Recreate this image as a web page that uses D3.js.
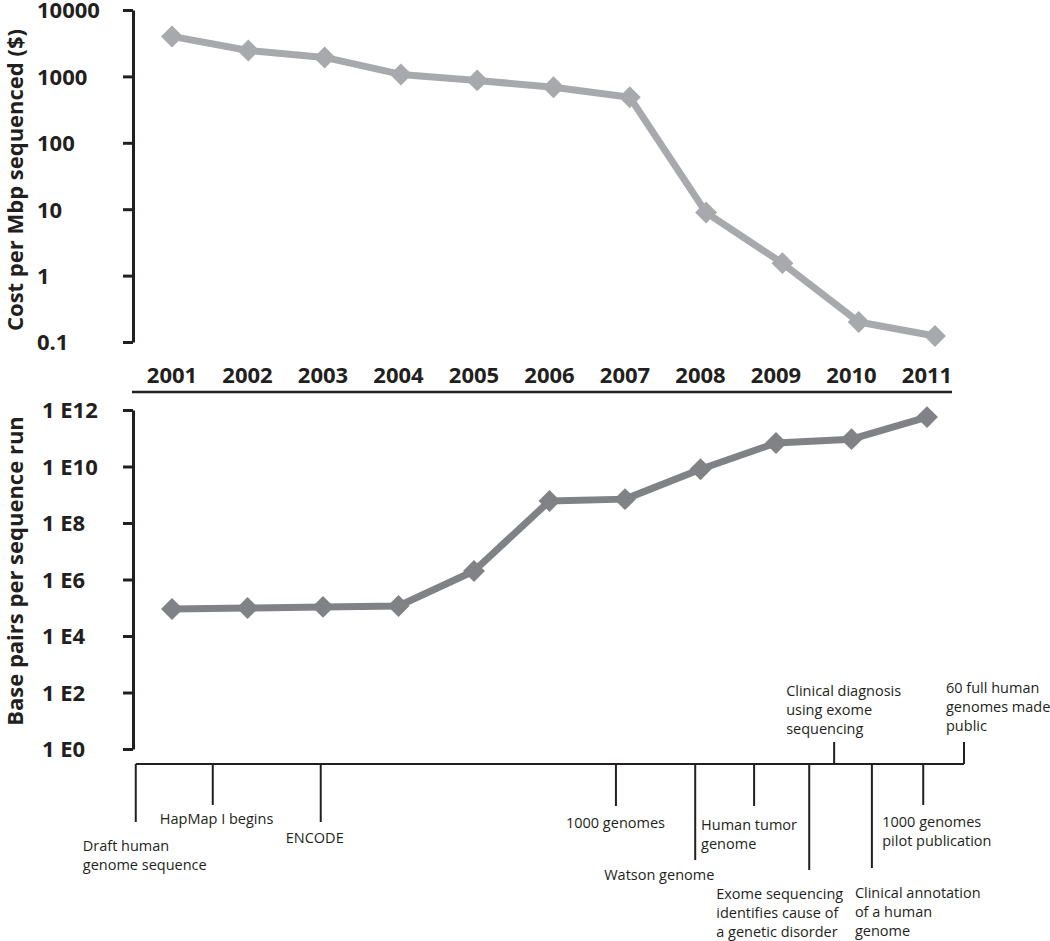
<!DOCTYPE html>
<html>
<head>
<meta charset="utf-8">
<script src="https://cdn.jsdelivr.net/npm/d3@7"></script>
<style>
  body { margin: 0; background: #fff; }
  text { font-family: "Open Sans", sans-serif; fill: #231f20; }
</style>
</head>
<body>
<div class="chart"></div>
<script>
// data
var years = [2001, 2002, 2003, 2004, 2005, 2006, 2007, 2008, 2009, 2010, 2011];
var costPerMbp = [4000, 2450, 1930, 1070, 870, 685, 485, 8.9, 1.54, 0.2, 0.123];
var basePairsPerRun = [9e4, 9.8e4, 1.07e5, 1.15e5, 2e6, 6e8, 7e8, 8e9, 6.8e10, 9.3e10, 5.6e11];

var costTicks = [0.1, 1, 10, 100, 1000, 10000];
var costTickLabels = ["0.1", "1", "10", "100", "1000", "10000"];
var bpTicks = [1e0, 1e2, 1e4, 1e6, 1e8, 1e10, 1e12];
var bpTickLabels = ["1 E0", "1 E2", "1 E4", "1 E6", "1 E8", "1 E10", "1 E12"];

// timeline events (fractional year) and their text
var eventDates = [2000.52, 2001.54, 2002.97, 2006.88, 2007.93, 2008.71, 2009.44, 2009.77, 2010.27, 2010.95, 2011.49];
var eventLabels = [
  ["Draft human", "genome sequence"],
  ["HapMap I begins"],
  ["ENCODE"],
  ["1000 genomes"],
  ["Watson genome"],
  ["Human tumor", "genome"],
  ["Exome sequencing", "identifies cause of", "a genetic disorder"],
  ["Clinical diagnosis", "using exome", "sequencing"],
  ["Clinical annotation", "of a human", "genome"],
  ["1000 genomes", "pilot publication"],
  ["60 full human", "genomes made", "public"]
];

// where each event's stem and label sit (layout only)
// len: stem length (negative = up), dx: label offset, dy: first baseline below stem end
var eventLayout = [
  { len: 58, dx: -53, dy: 29 },
  { len: 41, dx: -53, dy: 19 },
  { len: 58, dx: -35, dy: 21 },
  { len: 42, dx: -50, dy: 22 },
  { len: 96, dx: -91, dy: 20 },
  { len: 42, dx: -53, dy: 24 },
  { len: 106, dx: -93, dy: 29 },
  { len: -22, dx: -48, dy: -46 },
  { len: 104, dx: -17, dy: 30 },
  { len: 41, dx: -41, dy: 22 },
  { len: -22, dx: -18, dy: -49 }
];

var svgWidth = 1050;
var svgHeight = 941;

var svg = d3.select(".chart").append("svg")
  .attr("width", svgWidth)
  .attr("height", svgHeight);

var axisX = 133;

// x scales (top panel sits slightly wider than the bottom one)
var xTop = d3.scaleLinear().domain([2001, 2011]).range([172, 935]);
var xBottom = d3.scaleLinear().domain([2001, 2011]).range([172, 927]);

// y scales
var yCost = d3.scaleLog().domain([0.1, 10000]).range([342, 10]);
var yBp = d3.scaleLog().domain([1, 1e12]).range([749, 410]);

var diamond = d3.symbol().type(d3.symbolSquare).size(240);

function drawAxis(scale, ticks, labels, labelX) {
  var axis = d3.axisLeft(scale)
    .tickValues(ticks)
    .tickFormat(function(d, i) { return labels[i]; })
    .tickSize(10)
    .tickSizeOuter(0);

  var g = svg.append("g")
    .attr("transform", `translate(${axisX}, 0)`)
    .call(axis);

  g.select(".domain").attr("stroke", "#231f20").attr("stroke-width", 3);
  g.selectAll(".tick line").attr("stroke", "#231f20").attr("stroke-width", 3)
    .attr("x2", -10);
  g.selectAll(".tick text")
    .attr("text-anchor", "start")
    .attr("x", labelX)
    .attr("dy", "0.36em")
    .style("font-size", "22px")
    .style("font-weight", "700")
    .attr("fill", "#231f20");
  return g;
}

function drawSeries(xs, ys, values, color) {
  var line = d3.line()
    .x(function(d, i) { return xs(years[i]); })
    .y(function(d) { return ys(d); });

  svg.append("path")
    .datum(values)
    .attr("d", line)
    .attr("fill", "none")
    .attr("stroke", color)
    .attr("stroke-width", 7)
    .attr("stroke-linejoin", "round");

  svg.selectAll(null)
    .data(values)
    .enter()
    .append("path")
    .attr("d", diamond)
    .attr("transform", function(d, i) {
      return `translate(${xs(years[i])}, ${ys(d)}) rotate(45)`;
    })
    .attr("fill", color);
}

// top panel: cost
drawAxis(yCost, costTicks, costTickLabels, -96);
drawSeries(xTop, yCost, costPerMbp, "#a7a9ac");

svg.append("text")
  .attr("transform", "translate(23, 180) rotate(-90)")
  .attr("text-anchor", "middle")
  .style("font-size", "22px")
  .style("font-weight", "700")
  .text("Cost per Mbp sequenced ($)");

// year labels and divider between panels
svg.selectAll(null)
  .data(years)
  .enter()
  .append("text")
  .attr("x", function(d) { return xBottom(d); })
  .attr("y", 383)
  .attr("text-anchor", "middle")
  .style("font-size", "22px")
  .style("font-weight", "700")
  .text(function(d) { return d; });

svg.append("line")
  .attr("x1", 132).attr("x2", 952)
  .attr("y1", 392).attr("y2", 392)
  .attr("stroke", "#231f20")
  .attr("stroke-width", 2.5);

// bottom panel: base pairs
drawAxis(yBp, bpTicks, bpTickLabels, -91);
drawSeries(xBottom, yBp, basePairsPerRun, "#808285");

svg.append("text")
  .attr("transform", "translate(23, 571) rotate(-90)")
  .attr("text-anchor", "middle")
  .style("font-size", "22px")
  .style("font-weight", "700")
  .text("Base pairs per sequence run");

// timeline
var timelineY = 764;
var timeline = svg.append("g");

timeline.append("line")
  .attr("x1", xBottom(eventDates[0]))
  .attr("x2", xBottom(eventDates[eventDates.length - 1]))
  .attr("y1", timelineY).attr("y2", timelineY)
  .attr("stroke", "#231f20")
  .attr("stroke-width", 2);

var events = timeline.selectAll("g.event")
  .data(eventDates)
  .enter()
  .append("g")
  .classed("event", true)
  .attr("transform", function(d) { return `translate(${xBottom(d)}, ${timelineY})`; });

events.append("line")
  .attr("x1", 0).attr("x2", 0)
  .attr("y1", 0)
  .attr("y2", function(d, i) { return eventLayout[i].len; })
  .attr("stroke", "#231f20")
  .attr("stroke-width", 2);

events.append("text")
  .attr("x", function(d, i) { return eventLayout[i].dx; })
  .attr("y", function(d, i) { return eventLayout[i].len + eventLayout[i].dy; })
  .style("font-size", "14.5px")
  .each(function(d, i) {
    var t = d3.select(this);
    var x0 = eventLayout[i].dx;
    eventLabels[i].forEach(function(s, j) {
      t.append("tspan")
        .attr("x", x0)
        .attr("dy", j === 0 ? 0 : 19)
        .text(s);
    });
  });
</script>
</body>
</html>
